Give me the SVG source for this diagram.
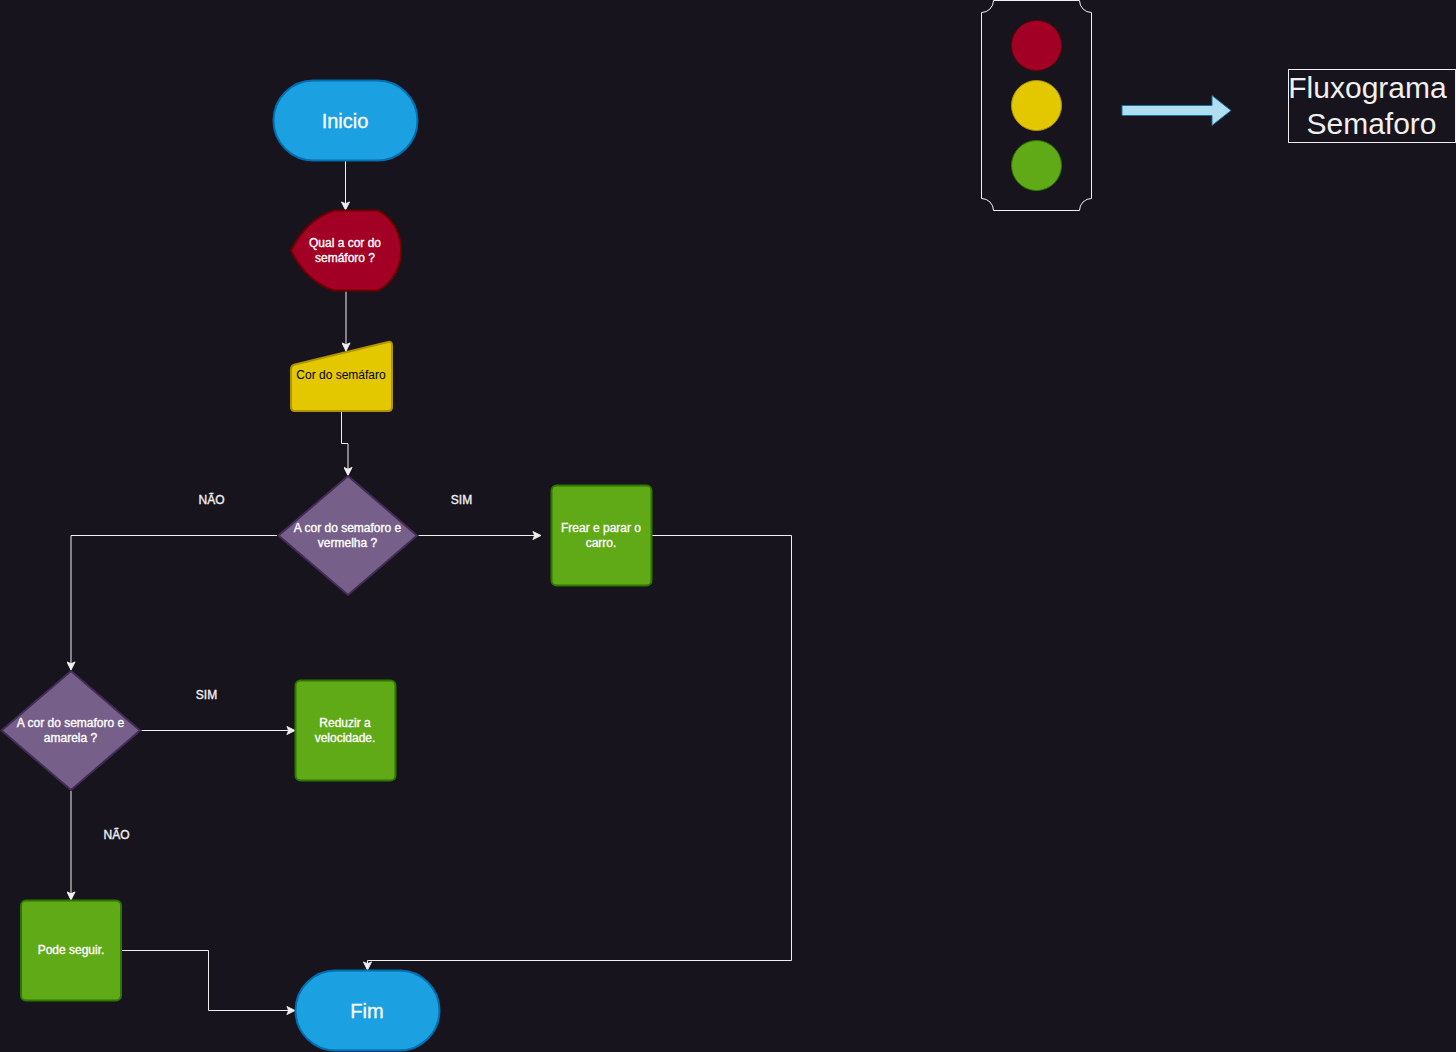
<svg xmlns="http://www.w3.org/2000/svg" width="1456" height="1052" viewBox="0 0 1456 1052">
<defs>
<marker id="arr" viewBox="0 0 10 10" refX="9.500" refY="5" markerWidth="9" markerHeight="9" markerUnits="userSpaceOnUse" orient="auto"><path d="M0.5 0.5L9.5 5L0.5 9.5L2.5 5Z" fill="#f0f0f0" stroke="#f0f0f0"/></marker>
</defs>
<style>
text{font-family:"Liberation Sans",Arial,sans-serif;text-anchor:middle}
.t{font-size:12px;font-weight:400;fill:#fff;stroke:#fff;stroke-width:.35px}
.k{font-size:12px;fill:#000}
.lab{font-size:12px;font-weight:400;fill:#f0f0f0;stroke:#f0f0f0;stroke-width:.35px}
.big{font-size:20px;fill:#fff;stroke:#fff;stroke-width:.3px}
.title{font-size:30px;fill:#f0f0f0}
.blue{fill:#1ba1e2;stroke:#006eaf;stroke-width:2}
.red{fill:#a20025;stroke:#6f0000;stroke-width:2}
.yel{fill:#e3c800;stroke:#b09500;stroke-width:2}
.pur{fill:#76608a;stroke:#432d57;stroke-width:2}
.grn{fill:#60a917;stroke:#2d7600;stroke-width:2}
.c{fill:none;stroke:#f0f0f0;stroke-width:1;marker-end:url(#arr)}
</style>
<rect width="1456" height="1052" fill="#18141d"/>
<g id="connectors">
<path class="c" d="M345.500 161V210"/>
<path class="c" d="M346 291.500V351"/>
<path class="c" d="M341.500 411.500V443.500H348V475.500"/>
<path class="c" d="M418.500 535.500H541"/>
<path class="c" d="M277 535.500H71V670"/>
<path class="c" d="M141.500 730.500H295"/>
<path class="c" d="M71 791V900"/>
<path class="c" d="M652 535.500H791.500V960.500H367.500V970"/>
<path class="c" d="M122 950.500H208.500V1010.500H295"/>
</g>
<g id="inicio"><rect class="blue" x="273.500" y="80.500" width="144" height="80" rx="40" ry="40"/><text class="big" x="345" y="128">Inicio</text></g>
<g id="display"><path class="red" d="M291 250.500C300 232 314 217 334 210.500H378C392 218 401 233 401 250.500C401 268 392 283 378 290.500H334C314 284 300 269 291 250.500Z"/><text class="t"><tspan x="345" y="247">Qual a cor do</tspan><tspan x="345" y="262">semáforo ?</tspan></text></g>
<g id="input"><path class="yel" d="M295 364.500L388 342Q392 341 392 345V407Q392 411 388 411H295Q291 411 291 407V369.500Q291 365.500 295 364.500Z"/><text class="k" x="341" y="379">Cor do semáfaro</text></g>
<g id="d1"><path class="pur" d="M348 476L417 535.500L348 595L278.500 535.500Z"/><text class="t"><tspan x="347.500" y="532">A cor do semaforo e</tspan><tspan x="347.500" y="547">vermelha ?</tspan></text></g>
<g id="d2"><path class="pur" d="M71 671L140 730.500L71 790L1.500 730.500Z"/><text class="t"><tspan x="70.500" y="727">A cor do semaforo e</tspan><tspan x="70.500" y="742">amarela ?</tspan></text></g>
<g id="frear"><rect class="grn" x="551.500" y="485.500" width="100" height="100" rx="5"/><text class="t"><tspan x="601" y="532">Frear e parar o</tspan><tspan x="601" y="547">carro.</tspan></text></g>
<g id="reduzir"><rect class="grn" x="295.500" y="680.500" width="100" height="100" rx="5"/><text class="t"><tspan x="345" y="727">Reduzir a</tspan><tspan x="345" y="742">velocidade.</tspan></text></g>
<g id="seguir"><rect class="grn" x="21" y="900.500" width="100" height="100" rx="5"/><text class="t" x="71" y="954">Pode seguir.</text></g>
<g id="fim"><rect class="blue" x="295.500" y="970.500" width="144" height="80" rx="40" ry="40"/><text class="big" x="367" y="1018">Fim</text></g>
<g id="labels"><text class="lab" x="211.500" y="504">NÃO</text><text class="lab" x="461.500" y="504">SIM</text><text class="lab" x="206.500" y="699">SIM</text><text class="lab" x="116.500" y="839">NÃO</text></g>
<g id="semaforo">
<path d="M993.500 0.500H1079.500A12 12 0 0 0 1091.500 12.500V198.500A12 12 0 0 0 1079.500 210.500H993.500A12 12 0 0 0 981.500 198.500V12.500A12 12 0 0 0 993.500 0.500Z" fill="none" stroke="#f0f0f0"/>
<circle cx="1036.500" cy="45.500" r="25" fill="#a20025" stroke="#6f0000"/>
<circle cx="1036.500" cy="105.500" r="25" fill="#e3c800" stroke="#b09500"/>
<circle cx="1036.500" cy="165.500" r="25" fill="#60a917" stroke="#2d7600"/>
</g>
<g id="seta"><path d="M1122 105.500H1212V95.500L1231 110.500L1212 125.500V115.500H1122Z" fill="#b1ddf0" stroke="#10739e"/></g>
<g id="titulo"><rect x="1288.500" y="69.500" width="167" height="73" fill="none" stroke="#f0f0f0"/><text class="title"><tspan x="1367.500" y="98">Fluxograma</tspan><tspan x="1371.500" y="134">Semaforo</tspan></text></g>
</svg>
